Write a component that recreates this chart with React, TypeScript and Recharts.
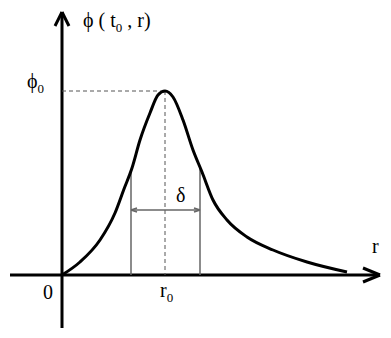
import { ComposedChart, Line, XAxis, YAxis, ReferenceLine, ReferenceDot } from 'recharts'

// profile of phi(t0, r) along r
const rValues = [0, 18, 38, 53, 62, 70, 78, 88, 96, 103, 111, 121, 131, 140, 151, 165, 185, 211, 245, 285]
const phiValues = [0, 13, 35, 62, 86, 107, 135, 162, 180, 184, 178, 155, 125, 103, 75, 55, 38, 25, 13, 3]

const peakR = 103
const peakPhi = 184
const halfLeft = 69
const halfRight = 138
const halfPhi = 106
const deltaArrowPhi = 65

const xMin = -62
const xMax = 329
const yMin = -63
const yMax = 275

const data = rValues.map((r, i) => ({ r, phi: phiValues[i] }))

type Lbl = { r: number; phi: number; main: string; sub?: string; tail?: string }
const labels: Lbl[] = [
  { r: 21, phi: 248, main: 'ϕ ( t', sub: '0', tail: ' , r)' },
  { r: -35, phi: 187, main: 'ϕ', sub: '0' },
  { r: -19, phi: -24, main: '0' },
  { r: 98, phi: -22, main: 'r', sub: '0' },
  { r: 114, phi: 73, main: 'δ' },
  { r: 310, phi: 22, main: 'r' },
]

const font = '"Liberation Serif", "DejaVu Serif", serif'

function labelShape(l: Lbl) {
  return (p: any) => (
    <text x={p.cx} y={p.cy} fontFamily={font} fontSize={20} fill="#000">
      {l.main}
      {l.sub && (
        <tspan dy={5} fontSize={13}>{l.sub}</tspan>
      )}
      {l.tail && <tspan dy={-5}>{l.tail}</tspan>}
    </text>
  )
}

const seg = (x1: number, y1: number, x2: number, y2: number) =>
  [{ x: x1, y: y1 }, { x: x2, y: y2 }] as any

export default function App() {
  return (
    <div style={{ position: 'absolute', left: 0, top: 0, background: '#fff' }}>
      <ComposedChart width={391} height={338} data={data} margin={{ top: 0, right: 0, bottom: 0, left: 0 }}>
        <XAxis type="number" dataKey="r" domain={[xMin, xMax]} hide allowDataOverflow />
        <YAxis type="number" domain={[yMin, yMax]} hide allowDataOverflow />

        {/* axes with arrow heads */}
        <ReferenceLine segment={seg(-52, 0, 318, 0)} stroke="#000" strokeWidth={3} />
        <ReferenceLine segment={seg(301, 7, 318, 0)} stroke="#000" strokeWidth={3} />
        <ReferenceLine segment={seg(301, -7, 318, 0)} stroke="#000" strokeWidth={3} />
        <ReferenceLine segment={seg(0, -53, 0, 263)} stroke="#000" strokeWidth={3} />
        <ReferenceLine segment={seg(-7, 249, 0, 263)} stroke="#000" strokeWidth={3} />
        <ReferenceLine segment={seg(7, 249, 0, 263)} stroke="#000" strokeWidth={3} />

        {/* peak guides */}
        <ReferenceLine segment={seg(0, peakPhi, peakR, peakPhi)} stroke="#555" strokeWidth={1} strokeDasharray="4 3" />
        <ReferenceLine segment={seg(peakR, peakPhi, peakR, 0)} stroke="#555" strokeWidth={1} strokeDasharray="4 3" />

        {/* width delta */}
        <ReferenceLine segment={seg(halfLeft, 0, halfLeft, halfPhi)} stroke="#666" strokeWidth={1.5} />
        <ReferenceLine segment={seg(halfRight, 0, halfRight, halfPhi)} stroke="#666" strokeWidth={1.5} />
        <ReferenceLine segment={seg(halfLeft, deltaArrowPhi, halfRight, deltaArrowPhi)} stroke="#666" strokeWidth={1.5} />
        <ReferenceLine segment={seg(halfLeft, deltaArrowPhi, halfLeft + 6, deltaArrowPhi + 2)} stroke="#666" strokeWidth={1.5} />
        <ReferenceLine segment={seg(halfLeft, deltaArrowPhi, halfLeft + 6, deltaArrowPhi - 2)} stroke="#666" strokeWidth={1.5} />
        <ReferenceLine segment={seg(halfRight, deltaArrowPhi, halfRight - 6, deltaArrowPhi + 2)} stroke="#666" strokeWidth={1.5} />
        <ReferenceLine segment={seg(halfRight, deltaArrowPhi, halfRight - 6, deltaArrowPhi - 2)} stroke="#666" strokeWidth={1.5} />

        <Line
          type="monotone"
          dataKey="phi"
          stroke="#000"
          strokeWidth={3}
          dot={false}
          activeDot={false}
          isAnimationActive={false}
        />

        {labels.map((l, i) => (
          <ReferenceDot key={i} x={l.r} y={l.phi} r={0} shape={labelShape(l)} />
        ))}
      </ComposedChart>
    </div>
  )
}
